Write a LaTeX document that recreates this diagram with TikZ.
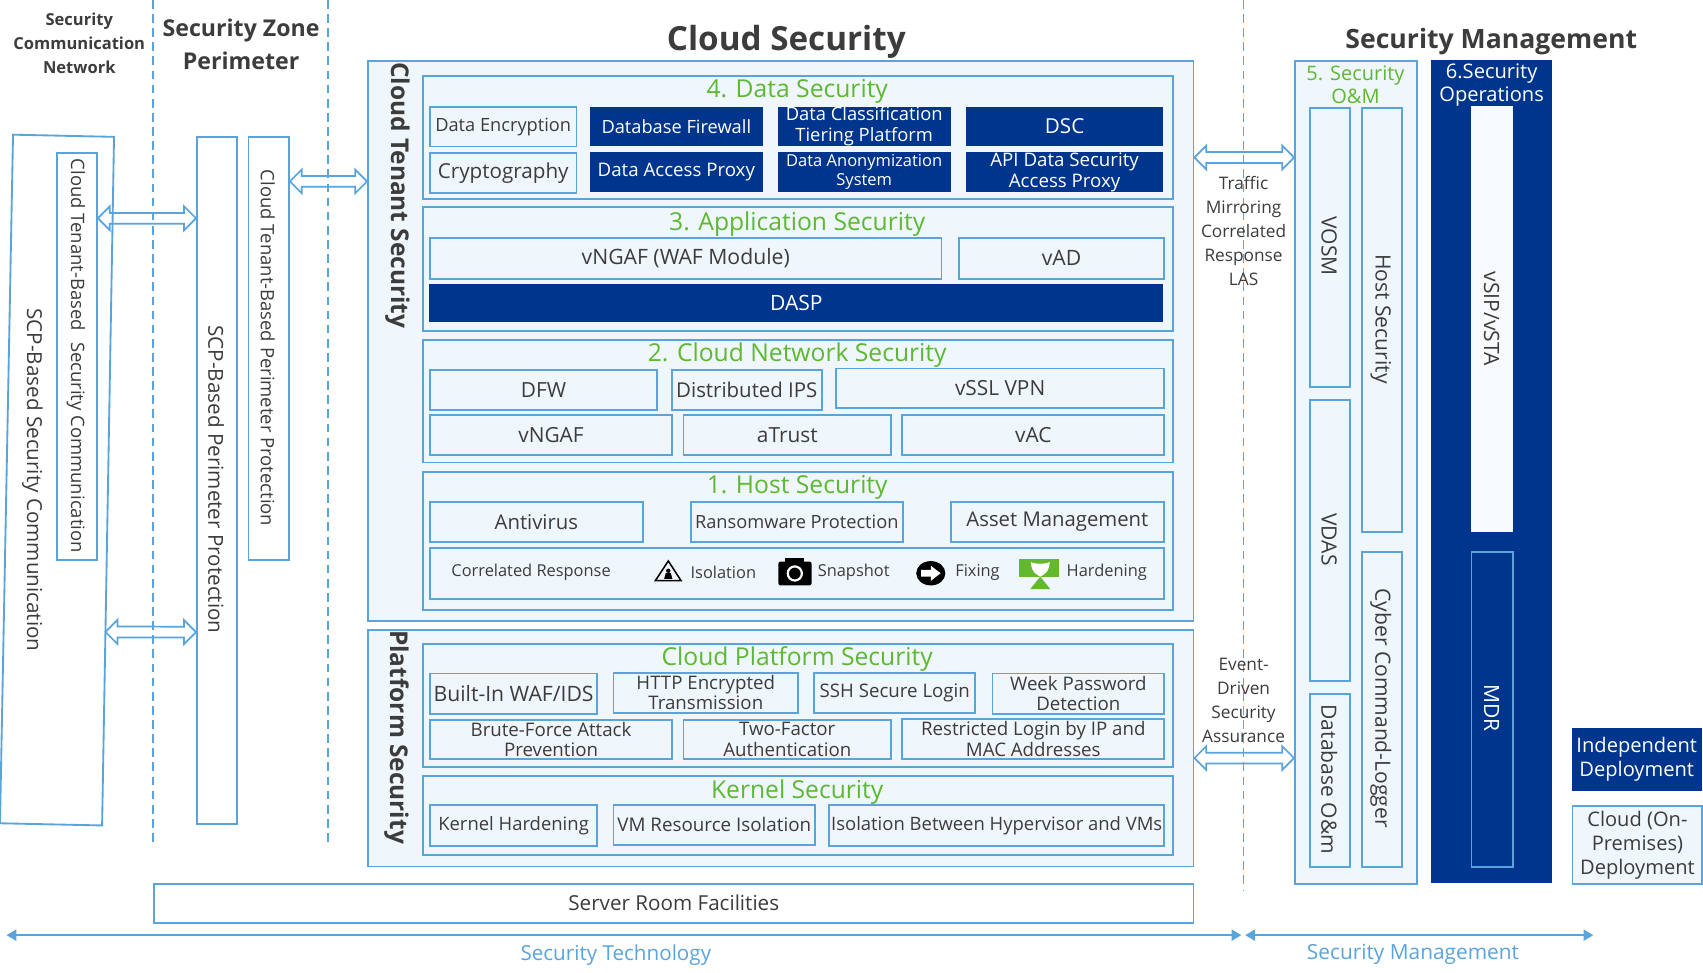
\documentclass[tikz,border=0pt]{standalone}
\usepackage{fontspec}
\setmainfont{Open Sans}
\usetikzlibrary{calc,arrows.meta}
\definecolor{lblue}{HTML}{5BA3DB}
\definecolor{lfill}{HTML}{EFF6FC}
\definecolor{navy}{HTML}{00358E}
\definecolor{tdark}{HTML}{3C3C3C}
\definecolor{sgreen}{HTML}{5DB832}
\definecolor{hgreen}{HTML}{64B82E}
\definecolor{vfill}{HTML}{F6FAFD}
\newcommand{\fs}[2]{\fontsize{#1}{#2}\selectfont}
\newcommand{\rb}[7]{\node[#1, anchor=north west, minimum width={(#5-#3)*1pt}, minimum height={(#6-#4)*1pt}] (#2) at (#3,#4) {#7};}
\newcommand{\dblarr}[2]{\draw[arrline] (#1) -- ++(11,-11) -- ++(0,6) -- ($(#2)+(-11,-5)$) -- ++(0,-6) -- (#2) -- ++(-11,11) -- ++(0,-6) -- ($(#1)+(11,5)$) -- ++(0,6) -- cycle;}
\begin{document}
\begin{tikzpicture}[x=1pt,y=-1pt,
  font=\fs{17}{19}, text=tdark,
  ln/.style={draw=lblue, line width=1.7pt},
  wbox/.style={ln, fill=lfill, inner sep=0pt, align=center, text=tdark, font=\fs{16.8}{19}},
  whbox/.style={ln, fill=white, inner sep=0pt, align=center, text=tdark},
  nbox/.style={fill=navy, inner sep=0pt, align=center, text=white, font=\fs{16.8}{19}},
  two/.style={font=\fs{17.2}{18.8}},
  vbox/.style={fill=vfill, inner sep=0pt},
  sect/.style={ln, fill=lfill, inner sep=0pt},
  gtitle/.style={text=sgreen, font=\fs{22.7}{24}, inner sep=0pt},
  htitle/.style={text=tdark, align=center, inner sep=0pt},
  vtext/.style={rotate=-90, inner sep=0pt, font=\fs{19}{20}, text=tdark},
  rtext/.style={rotate=-90, inner sep=0pt, font=\fs{19.4}{20}, text=tdark},
  vbold/.style={rotate=-90, inner sep=0pt, font=\bfseries\fs{22.5}{24}, text=tdark, anchor=west},
  smtext/.style={font=\fs{15.1}{17}, inner sep=0pt, text=tdark},
  lbl/.style={font=\fs{15.9}{22}, align=center, inner sep=0pt, text=tdark},
  dashln/.style={draw=lblue, line width=1.5pt, dash pattern=on 8pt off 5pt},
  arrline/.style={draw=lblue, line width=1.6pt, line join=miter},
  botarr/.style={draw=lblue, line width=2.2pt, {Triangle[length=9pt,width=10pt]}-{Triangle[length=9pt,width=10pt]}}
]
\useasboundingbox (0,0) rectangle (1568,895);

% ---------- headings ----------
\node[htitle, font=\bfseries\fs{15.2}{22}] (t1) at (73,40) {Security\\Communication\\Network};
\node[htitle, font=\bfseries\fs{21.3}{30}] (t2) at (222,41) {Security Zone\\Perimeter};
\node[htitle, font=\bfseries\fs{30.6}{34}] (t3) at (724,38.5) {Cloud Security};
\node[htitle, font=\bfseries\fs{24.5}{28}] (t4) at (1373,38) {Security Management};

% ---------- left columns ----------
\draw[ln, fill=white] (12,124) coordinate (o1) -- (105,126) coordinate (o2) -- (94,760) coordinate (o3) -- (0,758) coordinate (o4) -- cycle;
\node[vtext] (scpt) at (30,442) {SCP-Based Security Communication};
\rb{whbox}{ctsc}{51.6}{140}{88.4}{515}{}
\node[vtext,font=\fs{17}{20}] (ctsct) at (70,327.5) {Cloud Tenant-Based\hspace{0.6em}Security Communication};
\rb{whbox}{scpp}{180.5}{125}{217.3}{758}{}
\node[vtext] (scppt) at (199,441.5) {SCP-Based Perimeter Protection};
\rb{whbox}{ctpp}{228}{125}{265.2}{515}{}
\node[vtext,font=\fs{17}{20}] (ctppt) at (246.6,320.5) {Cloud Tenant-Based Perimeter Protection};

% ---------- cloud tenant security ----------
\rb{sect}{cts}{338}{55}{1098}{571}{}
\node[vbold] (ctst) at (366,57) {Cloud Tenant Security};

\rb{sect}{ds}{389}{69}{1079}{182}{}
\node[gtitle] (dst) at (734,84) {4. Data Security};
\rb{wbox}{de}{395}{98}{530}{134}{Data Encryption}
\rb{nbox}{dbf}{543}{98}{702}{134}{Database Firewall}
\rb{nbox,font=\fs{16.9}{18.8}}{dct}{716}{98}{875}{134}{Data Classification\\Tiering Platform}
\rb{nbox,font=\fs{19}{21}}{dsc}{889}{98}{1071}{134}{DSC}
\rb{wbox,font=\fs{19}{21}}{cry}{395}{140}{530}{177}{Cryptography}
\rb{nbox,font=\fs{17.2}{20}}{dap}{543}{140}{702}{177}{Data Access Proxy}
\rb{nbox,font=\fs{15.2}{17.5}}{das}{716}{140}{875}{177}{Data Anonymization\\System}
\rb{nbox,font=\fs{17.2}{19.5}}{api}{889}{140}{1071}{177}{API Data Security\\Access Proxy}

\rb{sect}{as}{389}{190}{1079}{304}{}
\node[gtitle] (ast) at (734,206) {3. Application Security};
\rb{wbox,font=\fs{19.5}{21}}{vng}{395}{218}{866}{256}{vNGAF (WAF Module)}
\rb{wbox,font=\fs{19.5}{21}}{vad}{882}{218}{1071}{256}{vAD}
\rb{nbox,font=\fs{19.4}{21}}{dasp}{395}{261}{1071}{296}{DASP}

\rb{sect}{cns}{389}{312}{1079}{425}{}
\node[gtitle] (cnst) at (734,327.3) {2. Cloud Network Security};
\rb{wbox,font=\fs{19.2}{21}}{dfw}{395}{339.5}{604}{376.6}{DFW}
\rb{wbox,font=\fs{18.8}{21}}{dips}{617.5}{339.5}{756}{376.6}{Distributed IPS}
\rb{wbox,font=\fs{19.2}{21}}{vssl}{769}{338.5}{1071}{375}{vSSL VPN}
\rb{wbox,font=\fs{19.2}{21}}{vngaf}{395}{381.5}{618}{418}{vNGAF}
\rb{wbox,font=\fs{19.2}{21}}{atr}{628.5}{381.5}{819.5}{418}{aTrust}
\rb{wbox,font=\fs{19.2}{21}}{vac}{830}{381.5}{1071}{418}{vAC}

\rb{sect}{hs}{389}{433.5}{1079}{561}{}
\node[gtitle] (hst) at (734,448.8) {1. Host Security};
\rb{wbox,font=\fs{18.7}{21}}{av}{395}{461}{591}{498}{Antivirus}
\rb{wbox}{rp}{635}{461}{830.5}{498}{Ransomware Protection}
\rb{wbox,font=\fs{18.7}{21}}{am}{874.5}{461}{1071}{498}{Asset Management}
\rb{wbox}{hrow}{395}{503.5}{1071}{550.5}{}
\node[smtext] (crt) at (489,527) {Correlated Response};
\node[smtext] (isot) at (666,527) {Isolation};
\node[smtext] (snpt) at (786,527) {Snapshot};
\node[smtext] (fixt) at (900,527) {Fixing};
\node[smtext] (hart) at (1019,527) {Hardening};
% icons
\draw[black, line width=1.4pt, line join=miter] (603.5,534.5) -- (615.3,516.5) -- (627,534.5) -- cycle;
\fill[black] (615.3,525.5) circle (2);
\fill[black] (611.5,533) -- (613,527.5) -- (617.6,527.5) -- (619.1,533) -- cycle;
\fill[black, rounded corners=2pt] (716.7,517) rectangle (747.2,539);
\fill[black] (723,513.3) rectangle (740,519);
\draw[white, line width=2pt] (731.8,528) circle (6.5);
\fill[black] (857,527.8) ellipse (13.4 and 11.2);
\fill[white] (848,524.7) -- (857,524.7) -- (857,520.8) -- (866,527.8) -- (857,534.8) -- (857,530.9) -- (848,530.9) -- cycle;
\fill[hgreen] (938.2,515) rectangle (975.4,531);
\fill[hgreen] (957.8,531) -- (967,542.4) -- (948.6,542.4) -- cycle;
\fill[white] (949,517.5) .. controls (953,519.5) and (962.6,519.5) .. (966.6,517.5) -- (965.8,522) .. controls (964,527) .. (957.8,531) .. controls (951.6,527) .. (949.8,522) -- cycle;

% ---------- platform security ----------
\rb{sect}{ps}{338}{579}{1098}{797}{}
\node[vbold] (pst) at (365,580) {Platform Security};
\rb{sect}{cps}{389}{592}{1079}{705}{}
\node[gtitle] (cpst) at (734,607) {Cloud Platform Security};
\rb{wbox,font=\fs{19.5}{21}}{bwaf}{395}{619.3}{549}{656.2}{Built-In WAF/IDS}
\rb{wbox,two}{http}{564}{618.4}{734}{655.3}{HTTP Encrypted\\Transmission}
\rb{wbox,font=\fs{17.2}{19}}{ssh}{749}{618.4}{897}{655.3}{SSH Secure Login}
\rb{wbox,two}{wpd}{913}{619.3}{1071}{656.2}{Week Password\\Detection}
\rb{wbox,two}{bfa}{395}{662}{618}{698}{Brute-Force Attack\\Prevention}
\rb{wbox,two}{tfa}{628.5}{662}{819.5}{698}{Two-Factor\\Authentication}
\rb{wbox,two}{rl}{830}{661}{1071}{698}{Restricted Login by IP and\\MAC Addresses}
\rb{sect}{ks}{389}{713.6}{1079}{786}{}
\node[gtitle] (kst) at (734,729.6) {Kernel Security};
\rb{wbox,font=\fs{17}{19}}{kh}{395}{740.6}{549}{777.7}{Kernel Hardening}
\rb{wbox,font=\fs{17.3}{19}}{vmr}{564}{740}{749.7}{777}{VM Resource Isolation}
\rb{wbox,font=\fs{17}{19}}{ibh}{762.7}{740.6}{1071}{778}{Isolation Between Hypervisor and VMs}

\rb{whbox,font=\fs{19}{21}}{srf}{141}{812.7}{1098}{848.6}{Server Room Facilities}

% ---------- security management ----------
\rb{sect}{som}{1191.5}{55.2}{1303.8}{812.7}{}
\node[font=\fs{18.4}{21.5}, text=sgreen, align=center, inner sep=0pt] (somt) at (1248,78) {5. Security\\O\&M};
\rb{sect}{vosm}{1205.3}{98.5}{1242.3}{355.4}{}
\node[rtext] (vosmt) at (1223.8,226.5) {VOSM};
\rb{sect}{hsec}{1252.8}{98.5}{1290}{488.6}{}
\node[rtext] (hsect) at (1271.4,293.6) {Host Security};
\rb{sect}{vdas}{1205.3}{367.7}{1242.3}{626}{}
\node[rtext] (vdast) at (1223.8,496.8) {VDAS};
\rb{sect}{dbo}{1205.3}{637.8}{1242.3}{797.4}{}
\node[rtext] (dbot) at (1223.8,717.6) {Database O\&m};
\rb{sect}{ccl}{1252.8}{507}{1290}{797.4}{}
\node[rtext] (cclt) at (1271.4,652) {Cyber Command-Logger};

\rb{nbox}{sop}{1317.6}{55.2}{1429.2}{812.7}{}
\node[font=\fs{18.5}{21.5}, text=white, align=center, inner sep=0pt] (sopt) at (1373.4,78) {6.Security\\Operations};
\rb{vbox}{vsip}{1354}{97.6}{1392.5}{489.5}{}
\node[rtext] (vsipt) at (1373.3,293.6) {vSIP/vSTA};
\rb{nbox,draw=lblue,line width=1.7pt}{mdr}{1354}{507}{1392.5}{797.4}{}
\node[rtext,text=white] (mdrt) at (1373.3,652) {MDR};

\rb{nbox,font=\fs{18.5}{22}}{ind}{1447}{669.7}{1566.5}{728}{Independent\\Deployment}
\rb{wbox,font=\fs{18.5}{22}}{cod}{1447}{741.2}{1566.5}{813.3}{Cloud (On-\\Premises)\\Deployment}

% ---------- dashed separators ----------
\draw[dashln] (141,0) -- (141,780);
\draw[dashln] (302,0) -- (302,780);
\draw[dashln] (1145,0) -- (1145,820);

% ---------- labels between ----------
\node[lbl] (tml) at (1145,212.4) {Traffic\\Mirroring\\Correlated\\Response\\LAS};
\node[lbl] (edl) at (1145,644.7) {Event-\\Driven\\Security\\Assurance};

% ---------- double arrows ----------
\coordinate (h1) at (0,201);
\coordinate (h2) at (0,582);
\coordinate (h3) at (0,167);
\coordinate (h4) at (0,145);
\coordinate (h5) at (0,698);
\coordinate (a1l) at (ctsc.east |- h1);
\coordinate (a1r) at (scpp.west |- h1);
\coordinate (a2l) at ($(o2)!0.719!(o3)$);
\coordinate (a2r) at (scpp.west |- h2);
\coordinate (a3l) at (ctpp.east |- h3);
\coordinate (a3r) at (cts.west |- h3);
\coordinate (a4l) at (cts.east |- h4);
\coordinate (a4r) at (som.west |- h4);
\coordinate (a5l) at (ps.east |- h5);
\coordinate (a5r) at (som.west |- h5);
\dblarr{a1l}{a1r}
\dblarr{a2l}{a2r}
\dblarr{a3l}{a3r}
\dblarr{a4l}{a4r}
\dblarr{a5l}{a5r}

% ---------- bottom axis ----------
\coordinate (bl) at (6,861);
\coordinate (bm1) at (1143,861);
\coordinate (bm2) at (1146.5,861);
\coordinate (br) at (1467,861);
\draw[botarr] (bl) -- (bm1);
\draw[botarr] (bm2) -- (br);
\node[text=lblue, font=\fs{19}{22}, inner sep=0pt] (stl) at (567,879) {Security Technology};
\node[text=lblue, font=\fs{19.2}{22}, inner sep=0pt] (sml) at (1301,879) {Security Management};
\end{tikzpicture}
\end{document}
